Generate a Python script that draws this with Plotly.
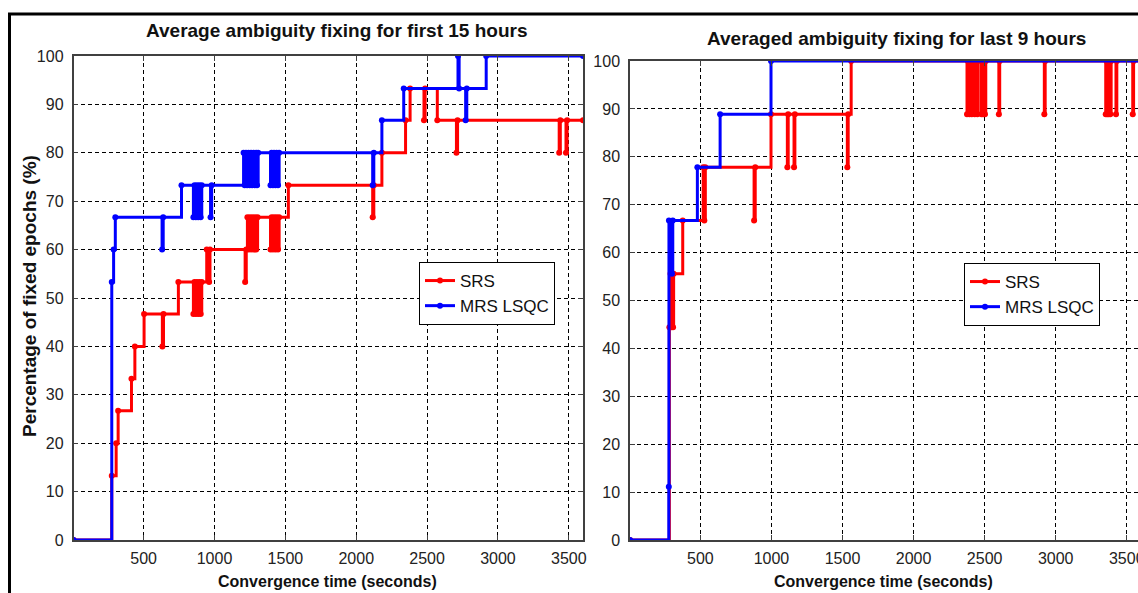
import plotly.graph_objects as go

# ---------------- data ----------------
x_ticks = [500, 1000, 1500, 2000, 2500, 3000, 3500]
y_ticks = [0, 10, 20, 30, 40, 50, 60, 70, 80, 90, 100]

# First 15 hours - SRS (change points of the step curve)
srs15_t = [5, 275, 306, 320, 414, 438, 503, 632, 640, 745,
           851, 859, 868, 876, 885, 893, 902, 910,
           945, 962, 968,
           1216, 1224, 1232, 1240, 1250, 1258, 1268, 1276, 1286, 1294, 1304,
           1395, 1403, 1412, 1420, 1430, 1438, 1448, 1456,
           1521, 2116, 2124, 2181, 2348, 2380, 2478, 2486, 2572, 2707, 2715,
           3432, 3440, 3480, 3488, 3600]
srs15_pct = [0, 13.3, 20.0, 26.7, 33.3, 40.0, 46.7, 40.0, 46.7, 53.3,
             46.7, 53.3, 46.7, 53.3, 46.7, 53.3, 46.7, 53.3,
             60.0, 53.3, 60.0,
             53.3, 60.0, 66.7, 60.0, 66.7, 60.0, 66.7, 60.0, 66.7, 60.0, 66.7,
             60.0, 66.7, 60.0, 66.7, 60.0, 66.7, 60.0, 66.7,
             73.3, 66.7, 73.3, 80.0, 86.7, 93.3, 86.7, 93.3, 86.7, 80.0, 86.7,
             80.0, 86.7, 80.0, 86.7, 86.7]

# First 15 hours - MRS LSQC
mrs15_t = [5, 275, 288, 300, 630, 638, 767,
           851, 859, 868, 876, 885, 893, 902, 910,
           972, 980,
           1205, 1213, 1222, 1230, 1240, 1248, 1258, 1266, 1276, 1284, 1294, 1300, 1308,
           1395, 1403, 1412, 1420, 1430, 1438, 1448, 1456,
           2116, 2124, 2181, 2335, 2718, 2726, 2772, 2780, 2917, 3600]
mrs15_pct = [0, 53.3, 60.0, 66.7, 60.0, 66.7, 73.3,
             66.7, 73.3, 66.7, 73.3, 66.7, 73.3, 66.7, 73.3,
             66.7, 73.3,
             80.0, 73.3, 80.0, 73.3, 80.0, 73.3, 80.0, 73.3, 80.0, 73.3, 80.0, 73.3, 80.0,
             73.3, 80.0, 73.3, 80.0, 73.3, 80.0, 73.3, 80.0,
             73.3, 80.0, 86.7, 93.3, 100.0, 93.3, 86.7, 93.3, 100.0, 100.0]

# Last 9 hours - SRS
srs9_t = [5, 282, 290, 296, 303, 308, 312, 376, 520, 528, 535, 878, 886, 997,
          1112, 1118, 1159, 1165, 1534, 1540, 1561,
          2376, 2382, 2393, 2399, 2410, 2416, 2430, 2436, 2449, 2455,
          2478, 2484, 2490, 2496, 2502, 2508, 2600, 2606, 2920, 2926,
          3352, 3358, 3362, 3368, 3372, 3378, 3384, 3390, 3424, 3430, 3542, 3548, 3600]
srs9_pct = [0, 44.4, 55.6, 44.4, 55.6, 44.4, 55.6, 66.7, 77.8, 66.7, 77.8, 66.7, 77.8, 88.9,
            77.8, 88.9, 77.8, 88.9, 77.8, 88.9, 100.0,
            88.9, 100.0, 88.9, 100.0, 88.9, 100.0, 88.9, 100.0, 88.9, 100.0,
            88.9, 100.0, 88.9, 100.0, 88.9, 100.0, 88.9, 100.0, 88.9, 100.0,
            88.9, 100.0, 88.9, 100.0, 88.9, 100.0, 88.9, 100.0, 88.9, 100.0, 88.9, 100.0, 100.0]

# Last 9 hours - MRS LSQC
mrs9_t = [5, 278, 279, 300, 306, 479, 639, 997, 3600]
mrs9_pct = [0, 11.1, 66.7, 55.6, 66.7, 77.8, 88.9, 100.0, 100.0]

# ---------------- styling ----------------
W, H = 1138, 593
RED, BLUE = "#ff0000", "#0000ff"
FONT = "Liberation Sans, Arial, sans-serif"


def px_x(p):
    return p / W


def px_y(p):
    return 1 - p / H


fig = go.Figure()


def add_series(t, p, color, name, xa, ya, leg):
    fig.add_trace(go.Scatter(
        x=t, y=p, mode="lines+markers", name=name,
        line=dict(color=color, width=3, shape="hv"),
        marker=dict(size=6, color=color),
        xaxis=xa, yaxis=ya, legend=leg, showlegend=True))


add_series(srs15_t, srs15_pct, RED, "SRS", "x", "y", "legend")
add_series(mrs15_t, mrs15_pct, BLUE, "MRS LSQC", "x", "y", "legend")
add_series(srs9_t, srs9_pct, RED, "SRS", "x2", "y2", "legend2")
add_series(mrs9_t, mrs9_pct, BLUE, "MRS LSQC", "x2", "y2", "legend2")

axis_common = dict(
    showgrid=True, gridcolor="black", griddash="4px,3px", gridwidth=1,
    showline=True, linecolor="#404040", linewidth=1.5,
    ticks="inside", ticklen=5, tickcolor="#404040",
    tickfont=dict(family=FONT, size=16, color="#222222"),
    zeroline=False, layer="above traces", automargin=False,
    ticklabeloverflow="allow",
)

fig.update_layout(
    template="none",
    width=W, height=H, autosize=False,
    margin=dict(l=0, r=0, t=0, b=0, pad=0),
    paper_bgcolor="white", plot_bgcolor="white",
    font=dict(family=FONT, color="#111111"),
    xaxis=dict(axis_common, domain=[px_x(73.5), px_x(583)], range=[5, 3600],
               tickvals=x_ticks, mirror="ticks", anchor="y", ticklabelstandoff=3),
    yaxis=dict(axis_common, domain=[px_y(540), px_y(56)], range=[0, 100],
               tickvals=y_ticks, mirror="ticks", anchor="x", ticklabelstandoff=5),
    xaxis2=dict(axis_common, domain=[px_x(630), 1.0], range=[5, 3579],
                tickvals=x_ticks, mirror="ticks", anchor="y2", ticklabelstandoff=3),
    yaxis2=dict(axis_common, domain=[px_y(540), px_y(61)], range=[0, 100],
                tickvals=y_ticks, mirror=False, anchor="x2", ticklabelstandoff=5),
    legend=dict(x=px_x(419), y=px_y(262), xanchor="left", yanchor="top",
                bgcolor="white", bordercolor="black", borderwidth=1,
                font=dict(family=FONT, size=17, color="#111111"), tracegroupgap=0),
    legend2=dict(x=px_x(964), y=px_y(263), xanchor="left", yanchor="top",
                 bgcolor="white", bordercolor="black", borderwidth=1,
                 font=dict(family=FONT, size=17, color="#111111"), tracegroupgap=0),
    showlegend=True,
)

ann = []
ann.append(dict(text="<b>Average ambiguity fixing for first 15 hours</b>",
                x=px_x(336), y=px_y(31), xref="paper", yref="paper",
                xanchor="center", yanchor="middle", showarrow=False,
                font=dict(family=FONT, size=19, color="#111111")))
ann.append(dict(text="<b>Averaged ambiguity fixing for last 9 hours</b>",
                x=px_x(896), y=px_y(39), xref="paper", yref="paper",
                xanchor="center", yanchor="middle", showarrow=False,
                font=dict(family=FONT, size=19, color="#111111")))
for cx in (328, 883):
    ann.append(dict(text="<b>Convergence time (seconds)</b>",
                    x=px_x(cx), y=px_y(581), xref="paper", yref="paper",
                    xanchor="center", yanchor="middle", showarrow=False,
                    font=dict(family=FONT, size=16, color="#111111")))
ann.append(dict(text="<b>Percentage of fixed epochs (%)</b>",
                x=px_x(29), y=px_y(296), xref="paper", yref="paper",
                xanchor="center", yanchor="middle", showarrow=False, textangle=-90,
                font=dict(family=FONT, size=19, color="#111111")))
fig.update_layout(annotations=ann)

fig.update_layout(shapes=[
    dict(type="line", xref="paper", yref="paper", x0=px_x(8), x1=1.0,
         y0=px_y(14), y1=px_y(14), line=dict(color="black", width=3)),
    dict(type="line", xref="paper", yref="paper", x0=px_x(9.5), x1=px_x(9.5),
         y0=0, y1=px_y(14), line=dict(color="black", width=3)),
])

fig.write_html("out.html")
